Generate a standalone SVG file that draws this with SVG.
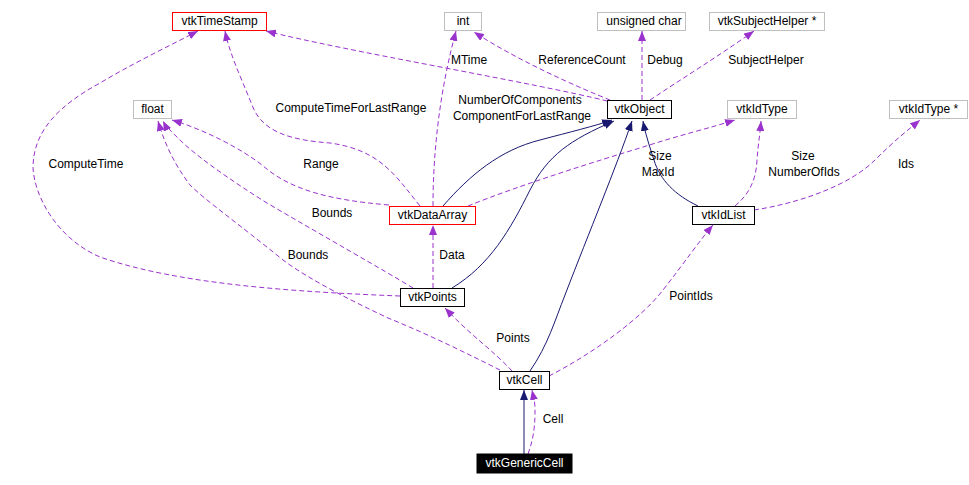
<svg xmlns="http://www.w3.org/2000/svg" width="969" height="485" viewBox="0 0 969 485">
<style>
.n rect{fill:#fff;stroke-width:1}
.g rect{stroke:#bfbfbf}
.k rect{stroke:#000}
.r rect{stroke:#f00}
text{font-family:"Liberation Sans",Arial,sans-serif;font-size:12px;fill:#000}
.n text{text-anchor:middle}
.l{text-anchor:middle}
.d{fill:none;stroke:#9a32cd;stroke-width:1;stroke-dasharray:5,3;marker-end:url(#ap)}
.s{fill:none;stroke:#191970;stroke-width:1;marker-end:url(#ab)}
</style>
<defs>
<marker id="ap" viewBox="0 0 10 8" refX="10" refY="4" markerWidth="10" markerHeight="8" markerUnits="userSpaceOnUse" orient="auto"><path d="M0,0 L10,4 L0,8 Z" fill="#9a32cd"/></marker>
<marker id="ab" viewBox="0 0 10 8" refX="10" refY="4" markerWidth="10" markerHeight="8" markerUnits="userSpaceOnUse" orient="auto"><path d="M0,0 L10,4 L0,8 Z" fill="#191970"/></marker>
</defs>
<rect width="969" height="485" fill="#fff"/>
<g id="edges">
<path class="d" d="M607,101 C540,84 340,50 266,31"/>
<path class="d" d="M610,100 C580,88 520,62 474,32"/>
<path class="d" d="M642,100 L642,31"/>
<path class="d" d="M650,100 C680,80 720,55 754,31"/>
<path class="d" d="M433,206 C433,150 440,90 456,31"/>
<path class="d" d="M389,205 C330,200 290,190 262,165 C240,148 205,130 172,120"/>
<path class="d" d="M420,206 C395,175 380,150 330,143 C290,140 262,132 252,105 C240,75 230,55 225,31"/>
<path class="d" d="M468,206 C520,185 600,160 640,148 C680,135 710,128 735,120"/>
<path class="s" d="M443,206 C470,175 500,150 540,140 C570,132 595,126 612,120"/>
<path class="s" d="M452,288 C490,265 510,230 530,190 C548,155 570,140 614,121"/>
<path class="s" d="M530,371 C548,345 555,320 565,295 C590,230 615,170 632,121"/>
<path class="s" d="M698,206 C675,195 660,180 654,160 C649,145 645,132 643,121"/>
<path class="d" d="M735,206 C748,195 756,182 757,160 C758,145 760,135 761,121"/>
<path class="d" d="M754,210 C800,203 850,185 875,160 C895,140 908,130 920,120"/>
<path class="d" d="M433,288 L433,225"/>
<path class="d" d="M413,288 C380,268 330,240 267,203 C230,180 195,155 180,140 C172,132 166,127 163,121"/>
<path class="d" d="M500,370 C470,355 430,335 388,318 C350,300 310,280 283,260 C240,225 205,200 190,185 C175,165 165,145 158,121"/>
<path class="d" d="M400,296 C300,292 180,285 100,257 C60,240 35,200 33,168 C33,130 60,105 100,83 C130,65 165,48 198,31"/>
<path class="d" d="M512,371 C495,352 470,335 445,308"/>
<path class="d" d="M549,376 C590,355 640,320 663,290 C685,262 700,240 713,225"/>
<path class="s" d="M524,454 L524,390"/>
<path class="d" d="M528,454 C535,435 535,420 535,410 C535,400 533,395 532,390"/>
</g>
<g id="labels">
<text class="l" x="469" y="64">MTime</text>
<text class="l" x="582" y="64">ReferenceCount</text>
<text class="l" x="665" y="64">Debug</text>
<text class="l" x="766" y="64">SubjectHelper</text>
<text class="l" x="520" y="104">NumberOfComponents</text>
<text class="l" x="522" y="120">ComponentForLastRange</text>
<text class="l" x="351" y="112">ComputeTimeForLastRange</text>
<text class="l" x="86" y="168">ComputeTime</text>
<text class="l" x="321" y="168">Range</text>
<text class="l" x="660" y="160">Size</text>
<text class="l" x="658" y="176">MaxId</text>
<text class="l" x="803" y="160">Size</text>
<text class="l" x="804" y="176">NumberOfIds</text>
<text class="l" x="906" y="168">Ids</text>
<text class="l" x="332" y="217">Bounds</text>
<text class="l" x="308" y="259">Bounds</text>
<text class="l" x="452" y="259">Data</text>
<text class="l" x="691" y="300">PointIds</text>
<text class="l" x="513" y="342">Points</text>
<text class="l" x="553" y="423">Cell</text>
</g>
<g id="vtkTimeStamp" class="n r"><rect x="172.5" y="12.5" width="94" height="18"/><text x="219.5" y="25">vtkTimeStamp</text></g>
<g id="int" class="n g"><rect x="444.5" y="12.5" width="37" height="18"/><text x="463" y="25">int</text></g>
<g id="unsigned_char" class="n g"><rect x="597.5" y="12.5" width="88" height="18"/><text x="644" y="25">unsigned char</text></g>
<g id="vtkSubjectHelper" class="n g"><rect x="709.5" y="12.5" width="115" height="18"/><text x="767" y="25">vtkSubjectHelper *</text></g>
<g id="float" class="n g"><rect x="133.5" y="100.5" width="38" height="18"/><text x="152.5" y="113">float</text></g>
<g id="vtkObject" class="n k"><rect x="607.5" y="100.5" width="64" height="18"/><text x="639.5" y="113">vtkObject</text></g>
<g id="vtkIdType" class="n g"><rect x="727.5" y="100.5" width="69" height="18"/><text x="762" y="113">vtkIdType</text></g>
<g id="vtkIdTypePtr" class="n g"><rect x="889.5" y="100.5" width="78" height="18"/><text x="928.5" y="113">vtkIdType *</text></g>
<g id="vtkDataArray" class="n r"><rect x="389.5" y="206.5" width="86" height="18"/><text x="432.5" y="219">vtkDataArray</text></g>
<g id="vtkIdList" class="n k"><rect x="692.5" y="206.5" width="62" height="18"/><text x="723.5" y="219">vtkIdList</text></g>
<g id="vtkPoints" class="n k"><rect x="400.5" y="288.5" width="64" height="18"/><text x="432.5" y="301">vtkPoints</text></g>
<g id="vtkCell" class="n k"><rect x="499.5" y="371.5" width="50" height="18"/><text x="524.5" y="384">vtkCell</text></g>
<g id="vtkGenericCell" class="n"><rect x="477" y="454" width="95" height="19" style="fill:#000;stroke:#000"/><text x="524.5" y="467" style="fill:#fff">vtkGenericCell</text></g>
</svg>
